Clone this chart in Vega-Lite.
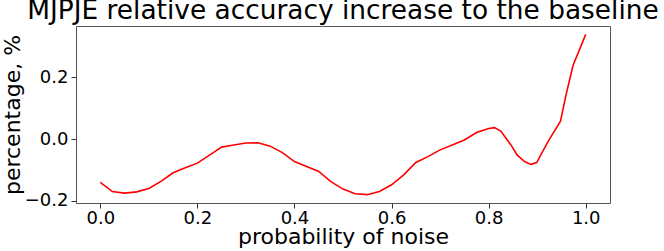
{
  "$schema": "https://vega.github.io/schema/vega-lite/v6.json",
  "width": 534,
  "height": 177,
  "autosize": {"type": "none"},
  "padding": {"left": 76, "top": 26, "right": 54, "bottom": 48},
  "config": {
    "font": "DejaVu Sans",
    "view": {"stroke": "#555", "strokeWidth": 1},
    "axis": {
      "grid": false,
      "domain": false,
      "tickColor": "#333",
      "tickSize": 5,
      "labelFont": "DejaVu Sans",
      "labelFontSize": 18,
      "labelColor": "#000",
      "titleFont": "DejaVu Sans",
      "titleFontSize": 22,
      "titleFontWeight": "normal",
      "titleColor": "#000"
    }
  },
  "title": {
    "text": "MJPJE relative accuracy increase to the baseline",
    "fontSize": 26.4,
    "fontWeight": "normal",
    "font": "DejaVu Sans",
    "color": "#000",
    "anchor": "middle",
    "frame": "group",
    "baseline": "alphabetic",
    "offset": 7,
    "dy": 26
  },
  "data": {
    "values": [
      {"p": 0.0, "v": -0.140},
      {"p": 0.025, "v": -0.170},
      {"p": 0.05, "v": -0.175},
      {"p": 0.075, "v": -0.171},
      {"p": 0.1, "v": -0.160},
      {"p": 0.125, "v": -0.137},
      {"p": 0.15, "v": -0.109},
      {"p": 0.175, "v": -0.093},
      {"p": 0.2, "v": -0.078},
      {"p": 0.225, "v": -0.052},
      {"p": 0.25, "v": -0.026},
      {"p": 0.275, "v": -0.019},
      {"p": 0.3, "v": -0.013},
      {"p": 0.325, "v": -0.012},
      {"p": 0.35, "v": -0.023},
      {"p": 0.375, "v": -0.044},
      {"p": 0.4, "v": -0.073},
      {"p": 0.425, "v": -0.089},
      {"p": 0.45, "v": -0.105},
      {"p": 0.475, "v": -0.138},
      {"p": 0.5, "v": -0.162},
      {"p": 0.525, "v": -0.177},
      {"p": 0.55, "v": -0.180},
      {"p": 0.575, "v": -0.170},
      {"p": 0.6, "v": -0.148},
      {"p": 0.625, "v": -0.116},
      {"p": 0.65, "v": -0.076},
      {"p": 0.675, "v": -0.057},
      {"p": 0.7, "v": -0.035},
      {"p": 0.725, "v": -0.019},
      {"p": 0.75, "v": -0.003},
      {"p": 0.775, "v": 0.021},
      {"p": 0.8, "v": 0.034},
      {"p": 0.812, "v": 0.037},
      {"p": 0.825, "v": 0.026},
      {"p": 0.846, "v": -0.019},
      {"p": 0.859, "v": -0.052},
      {"p": 0.874, "v": -0.073},
      {"p": 0.887, "v": -0.082},
      {"p": 0.899, "v": -0.076},
      {"p": 0.922, "v": -0.009},
      {"p": 0.948, "v": 0.058},
      {"p": 0.96, "v": 0.147},
      {"p": 0.974, "v": 0.239},
      {"p": 1.0, "v": 0.339}
    ]
  },
  "mark": {"type": "line", "color": "#ff0000", "strokeWidth": 1.6},
  "encoding": {
    "x": {
      "field": "p",
      "type": "quantitative",
      "title": "probability of noise",
      "scale": {"domain": [-0.05, 1.05], "nice": false, "zero": false},
      "axis": {"values": [0, 0.2, 0.4, 0.6, 0.8, 1.0], "format": ".1f", "labelPadding": 1, "titlePadding": -1}
    },
    "y": {
      "field": "v",
      "type": "quantitative",
      "title": "percentage, %",
      "scale": {"domain": [-0.207, 0.366], "nice": false, "zero": false},
      "axis": {"values": [-0.2, 0.0, 0.2], "format": ".1f", "labelPadding": 3, "titlePadding": 0}
    }
  }
}
